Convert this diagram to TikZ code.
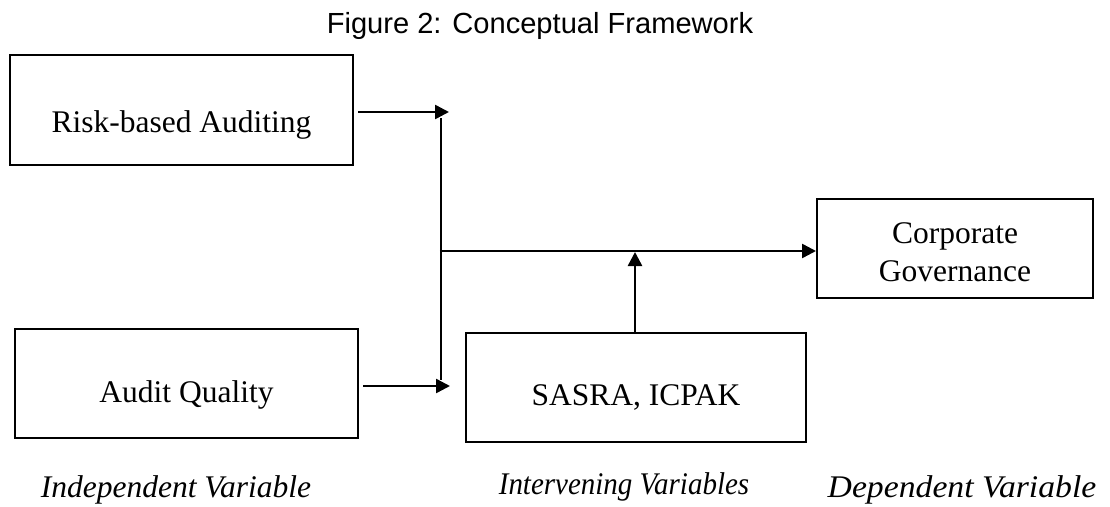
\documentclass[tikz,border=0pt]{standalone}
\usepackage{fontspec}
\setmainfont{Liberation Serif}
\newfontfamily\titlefont{Liberation Sans}
\usetikzlibrary{arrows.meta}
\begin{document}
\begin{tikzpicture}[x=1pt,y=-1pt,
  varbox/.style={draw, line width=2pt, inner sep=0pt},
  boxtext/.style={inner sep=0pt, align=center, anchor=base,
    font=\fontsize{31.5}{38}\selectfont},
  flow/.style={line width=2.5pt, -{Triangle[length=14pt,width=14pt]}},
  plain/.style={line width=2.5pt},
  caption/.style={font=\fontsize{31.5}{37}\selectfont\itshape, anchor=base}]
\useasboundingbox (0,0) rectangle (1110,506);

% title
\node[font=\titlefont\fontsize{29.1}{34}\selectfont, anchor=base] (title) at (540,33) {Figure 2: Conceptual Framework};

% variable boxes
\node[varbox, minimum width=343pt, minimum height=110pt] (rba) at (181.5,110) {};
\node[varbox, minimum width=343pt, minimum height=109pt] (aq) at (186.5,383.5) {};
\node[varbox, minimum width=340pt, minimum height=109pt] (sas) at (636,387.5) {};
\node[varbox, minimum width=276pt, minimum height=99pt] (cg) at (955,248.5) {};

% box texts
\node[boxtext] (rbat) at (181.5,132) {Risk-based Auditing};
\node[boxtext] (aqt) at (186.5,402) {Audit Quality};
\node[boxtext] (sast) at (636,405) {SASRA, ICPAK};
\node[boxtext, anchor=center] (cgt) at (955,252) {Corporate\\Governance};

% junction points of the connectors
\coordinate (topin) at (449,112);
\coordinate (botin) at (450,386);
\coordinate (bartop) at (441,118);
\coordinate (barbot) at (441,380);
\coordinate (join) at (441,251);
\coordinate (meet) at (635,252);

% connectors
\draw[flow] ([xshift=4pt]rba.east |- topin) -- (topin);
\draw[flow] ([xshift=4pt]aq.east |- botin) -- (botin);
\draw[plain] (bartop) -- (barbot);
\draw[flow] ([xshift=-1.25pt]join) -- (cg.west |- join);
\draw[flow] (sas.north -| meet) -- (meet);

% captions
\node[caption] (indep) at (176,497) {Independent Variable};
\node[caption] (interv) at (624,494) {\scalebox{0.92}[1]{Intervening Variables}};
\node[caption] (dep) at (962,497) {\scalebox{1.07}[1]{Dependent Variable}};
\end{tikzpicture}
\end{document}
